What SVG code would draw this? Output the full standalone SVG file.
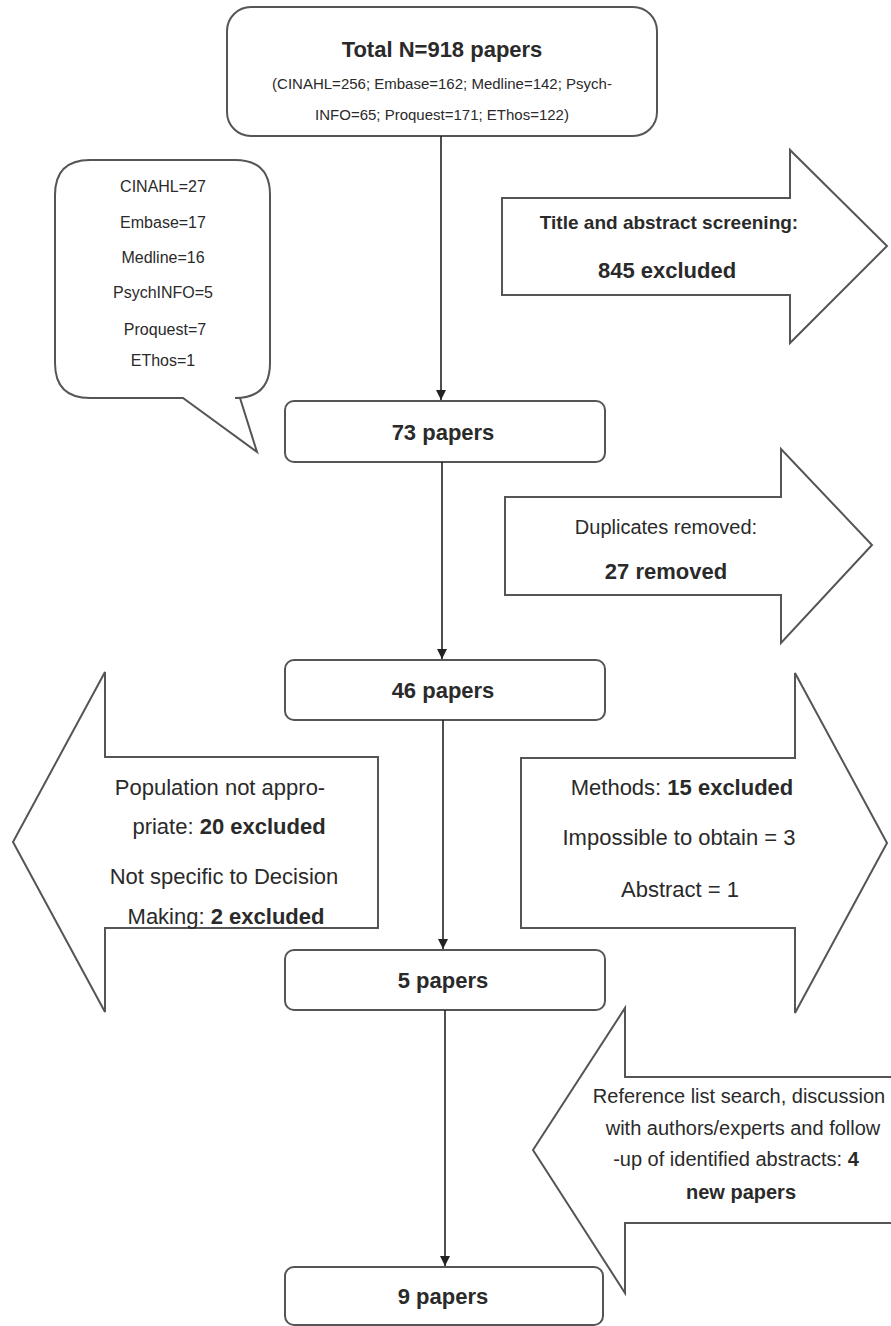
<svg xmlns="http://www.w3.org/2000/svg" width="891" height="1326" viewBox="0 0 891 1326">
<defs>
<marker id="ah" viewBox="0 0 10 10" refX="10" refY="5" markerWidth="10" markerHeight="10" markerUnits="userSpaceOnUse" orient="auto">
<path d="M0,0 L10,5 L0,10 z" fill="#222"/>
</marker>
</defs>
<style>
.box{fill:#fff;stroke:#555;stroke-width:2}
.shape{fill:#fff;stroke:#555;stroke-width:2;stroke-linejoin:miter}
.t{font-family:"Liberation Sans",Arial,sans-serif;fill:#2a2a2a;text-anchor:middle}
.b{font-weight:bold}
.conn{stroke:#222;stroke-width:1.6;fill:none;marker-end:url(#ah)}
</style>
<rect width="891" height="1326" fill="#fff"/>

<g id="node-total">
<rect class="box" x="227" y="7" width="430" height="129" rx="24"/>
<text class="t b" x="442" y="57" font-size="22">Total N=918 papers</text>
<text class="t" x="442" y="89" font-size="15">(CINAHL=256; Embase=162; Medline=142; Psych-</text>
<text class="t" x="442" y="120" font-size="15">INFO=65; Proquest=171; EThos=122)</text>
</g>

<g id="node-callout">
<path class="shape" d="M90,160 H235 Q270,160 270,195 V363 Q270,398 235,398 H240 L257,452 L183,398 H90 Q55,398 55,363 V195 Q55,160 90,160 Z"/>
<text class="t" x="163" y="192" font-size="16">CINAHL=27</text>
<text class="t" x="163" y="228" font-size="16">Embase=17</text>
<text class="t" x="163" y="263" font-size="16">Medline=16</text>
<text class="t" x="163" y="298" font-size="16">PsychINFO=5</text>
<text class="t" x="165" y="335" font-size="16">Proquest=7</text>
<text class="t" x="163" y="366" font-size="16">EThos=1</text>
</g>

<g id="node-screening">
<polygon class="shape" points="502,198 790,198 790,150 887,246 790,343 790,295 502,295"/>
<text class="t b" x="669" y="229" font-size="19">Title and abstract screening:</text>
<text class="t b" x="667" y="278" font-size="22">845 excluded</text>
</g>

<g id="node-73">
<rect class="box" x="285" y="401" width="320" height="61" rx="9"/>
<text class="t b" x="443" y="440" font-size="22">73 papers</text>
</g>

<g id="node-duplicates">
<polygon class="shape" points="505,497 781,497 781,449 872,545 781,643 781,595 505,595"/>
<text class="t" x="666" y="534" font-size="20">Duplicates removed:</text>
<text class="t b" x="666" y="579" font-size="22">27 removed</text>
</g>

<g id="node-46">
<rect class="box" x="285" y="660" width="320" height="60" rx="9"/>
<text class="t b" x="443" y="698" font-size="22">46 papers</text>
</g>

<g id="node-population">
<polygon class="shape" points="378,757 105,757 105,672 13,842 105,1012 105,928 378,928"/>
<text class="t" x="220" y="795" font-size="22">Population not appro-</text>
<text class="t" x="229" y="834" font-size="22">priate: <tspan class="b">20 excluded</tspan></text>
<text class="t" x="224" y="884" font-size="22">Not specific to Decision</text>
<text class="t" x="226" y="924" font-size="22">Making: <tspan class="b">2 excluded</tspan></text>
</g>

<g id="node-methods">
<polygon class="shape" points="521,758 795,758 795,673 887,843 795,1013 795,928 521,928"/>
<text class="t" x="682" y="795" font-size="22">Methods: <tspan class="b">15 excluded</tspan></text>
<text class="t" x="679" y="845" font-size="22">Impossible to obtain = 3</text>
<text class="t" x="680" y="897" font-size="22">Abstract = 1</text>
</g>

<g id="node-5">
<rect class="box" x="285" y="950" width="320" height="60" rx="9"/>
<text class="t b" x="443" y="988" font-size="22">5 papers</text>
</g>

<g id="node-reference">
<polygon class="shape" points="900,1077 625,1077 625,1008 533,1150 625,1293 625,1223 900,1223"/>
<text class="t" x="739" y="1103" font-size="20">Reference list search, discussion</text>
<text class="t" x="743" y="1135" font-size="20">with authors/experts and follow</text>
<text class="t" x="736" y="1166" font-size="20">-up of identified abstracts: <tspan class="b">4</tspan></text>
<text class="t b" x="741" y="1199" font-size="20">new papers</text>
</g>

<g id="node-9">
<rect class="box" x="285" y="1267" width="318" height="58" rx="9"/>
<text class="t b" x="443" y="1304" font-size="22">9 papers</text>
</g>

<g id="connectors">
<line class="conn" x1="441" y1="136" x2="441" y2="400"/>
<line class="conn" x1="442" y1="462" x2="442" y2="659"/>
<line class="conn" x1="443" y1="720" x2="443" y2="949"/>
<line class="conn" x1="445" y1="1010" x2="445" y2="1266"/>
</g>
</svg>
